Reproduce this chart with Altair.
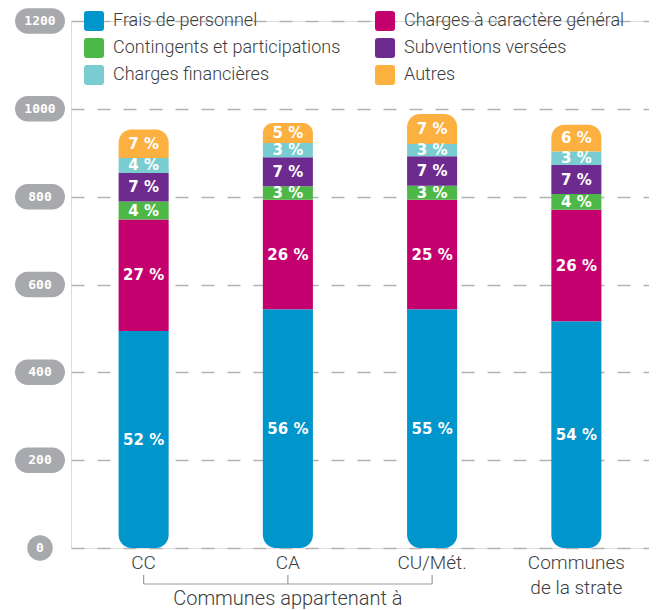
import altair as alt
import pandas as pd

categories = ["CC", "CA", "CU/Mét.", "Communes de la strate"]
series = ["Frais de personnel", "Charges à caractère général",
          "Contingents et participations", "Subventions versées",
          "Charges financières", "Autres"]
colors = ["#0095cb", "#c4006f", "#4db848", "#6d2b8f", "#79cdd0", "#fbb040"]

frais = [494, 543, 543, 516]
charges_gen = [254, 250, 250, 254]
contingents = [41, 31, 32, 36]
subventions = [65, 66, 67, 66]
charges_fin = [34, 32, 28, 31]
autres = [65, 46, 68, 61]

pct_frais = ["52 %", "56 %", "55 %", "54 %"]
pct_charges_gen = ["27 %", "26 %", "25 %", "26 %"]
pct_contingents = ["4 %", "3 %", "3 %", "4 %"]
pct_subventions = ["7 %", "7 %", "7 %", "7 %"]
pct_charges_fin = ["4 %", "3 %", "3 %", "3 %"]
pct_autres = ["7 %", "5 %", "7 %", "6 %"]

y_ticks = [0, 200, 400, 600, 800, 1000, 1200]
bracket_cats = ["CC", "CA", "CU/Mét."]
bracket_title = "Communes appartenant à"

values = [frais, charges_gen, contingents, subventions, charges_fin, autres]
pcts = [pct_frais, pct_charges_gen, pct_contingents, pct_subventions,
        pct_charges_fin, pct_autres]

rows = []
for i, cat in enumerate(categories):
    base = 0
    for k, s in enumerate(series):
        v = values[k][i]
        rows.append({"cat": cat, "serie": s, "order": k, "y0": base,
                     "y1": base + v, "mid": base + v / 2, "pct": pcts[k][i]})
        base += v
df = pd.DataFrame(rows)

# legend fills column by column: reorder so it reads row by row like the original
leg_idx = [0, 2, 4, 1, 3, 5]
leg_domain = [series[i] for i in leg_idx]
leg_range = [colors[i] for i in leg_idx]

W, H = 578, 527
TXT = "Roboto"
TXT_W = 300
TXT_COLOR = "#3d3d3d"

xscale = alt.Scale(domain=categories, paddingInner=0.653, paddingOuter=0.33)
yscale = alt.Scale(domain=[0, 1200], nice=False)

pill = "M -0.96 -1 L 0.96 -1 A 1 1 0 0 1 0.96 1 L -0.96 1 A 1 1 0 0 1 -0.96 -1 Z"
circ = "M 0 -1 A 1 1 0 0 1 0 1 A 1 1 0 0 1 0 -1 Z"
sq = "M -1 -0.7 Q -1 -1 -0.7 -1 L 0.7 -1 Q 1 -1 1 -0.7 L 1 0.7 Q 1 1 0.7 1 L -0.7 1 Q -1 1 -1 0.7 Z"

color_enc = alt.Color(
    "serie:N",
    scale=alt.Scale(domain=leg_domain, range=leg_range),
    legend=alt.Legend(
        title=None, orient="none", legendX=13, legendY=-10, columns=2,
        gridAlign="all", columnPadding=34, rowPadding=7,
        labelFont=TXT, labelFontWeight=TXT_W, labelFontSize=18,
        labelColor=TXT_COLOR, labelOffset=9, symbolType=sq, symbolSize=400,
        symbolStrokeWidth=0, symbolOpacity=1, labelLimit=400,
    ),
)

x_enc = alt.X(
    "cat:N", scale=xscale, sort=categories, title=None,
    axis=alt.Axis(
        labelAngle=0, ticks=False, domain=False, labelFont=TXT,
        labelFontWeight=TXT_W, labelFontSize=19, labelColor=TXT_COLOR,
        labelPadding=5, labelLineHeight=25, labelBaseline="top",
        labelExpr="datum.value == 'Communes de la strate' ? ['Communes', 'de la strate'] : datum.label",
    ),
)
y_enc = alt.Y(
    "y0:Q", scale=yscale, title=None,
    axis=alt.Axis(values=y_ticks, labels=False, ticks=False, domain=False,
                  grid=True, gridDash=[13, 13], gridColor="#b3b3b3",
                  gridWidth=1.5),
)

base = alt.Chart(df)
bars_mid = base.transform_filter("datum.order > 0 && datum.order < 5").mark_bar().encode(
    x=x_enc, y=y_enc, y2="y1:Q", color=color_enc)
bars_bottom = base.transform_filter("datum.order == 0").mark_bar(
    cornerRadiusBottomLeft=13, cornerRadiusBottomRight=13).encode(
    x=alt.X("cat:N", sort=categories), y="y0:Q", y2="y1:Q", color="serie:N")
bars_top = base.transform_filter("datum.order == 5").mark_bar(
    cornerRadiusTopLeft=13, cornerRadiusTopRight=13).encode(
    x=alt.X("cat:N", sort=categories), y="y0:Q", y2="y1:Q", color="serie:N")

labels = base.mark_text(font="DejaVu Sans", fontWeight="bold", fontSize=15,
                        color="white").encode(
    x=alt.X("cat:N", sort=categories), y="mid:Q", text="pct:N")

tick_df = pd.DataFrame({"v": y_ticks})
pills = alt.Chart(tick_df).transform_filter("datum.v > 0").mark_point(
    shape=pill, size=650, filled=True, color="#a8a9ac", opacity=1,
    strokeWidth=0).encode(x=alt.value(-31), y=alt.Y("v:Q"))
pill0 = alt.Chart(tick_df).transform_filter("datum.v == 0").mark_point(
    shape=circ, size=650, filled=True, color="#a8a9ac", opacity=1,
    strokeWidth=0).encode(x=alt.value(-31), y=alt.Y("v:Q"))
pill_txt = alt.Chart(tick_df).mark_text(
    font="DejaVu Sans Mono", fontWeight="bold", fontSize=13, color="white").encode(
    x=alt.value(-31), y=alt.Y("v:Q"), text=alt.Text("v:Q", format="d"))

br_df = pd.DataFrame({"cat": bracket_cats})
br_ticks = alt.Chart(br_df).mark_rule(color="#9a9a9a", strokeWidth=1.2).encode(
    x=alt.X("cat:N", sort=categories), y=alt.value(H + 27), y2=alt.value(H + 36))
br_line = alt.Chart(pd.DataFrame({"a": [bracket_cats[0]], "b": [bracket_cats[-1]]})).mark_rule(
    color="#9a9a9a", strokeWidth=1.2).encode(
    x=alt.X("a:N", sort=categories), x2="b:N", y=alt.value(H + 36))
br_text = alt.Chart(pd.DataFrame({"cat": [bracket_cats[1]], "t": [bracket_title]})).mark_text(
    font=TXT, fontWeight=TXT_W, fontSize=20, color=TXT_COLOR).encode(
    x=alt.X("cat:N", sort=categories), y=alt.value(H + 51), text="t:N")

chart = alt.layer(
    bars_mid, bars_bottom, bars_top, labels, pills, pill0, pill_txt,
    br_ticks, br_line, br_text,
).properties(
    width=W, height=H,
    padding={"left": 7, "top": 0, "right": 0, "bottom": 0},
).configure_view(stroke=None).configure(background="white")

chart.save("out.html", embed_options={"renderer": "svg", "actions": False})
